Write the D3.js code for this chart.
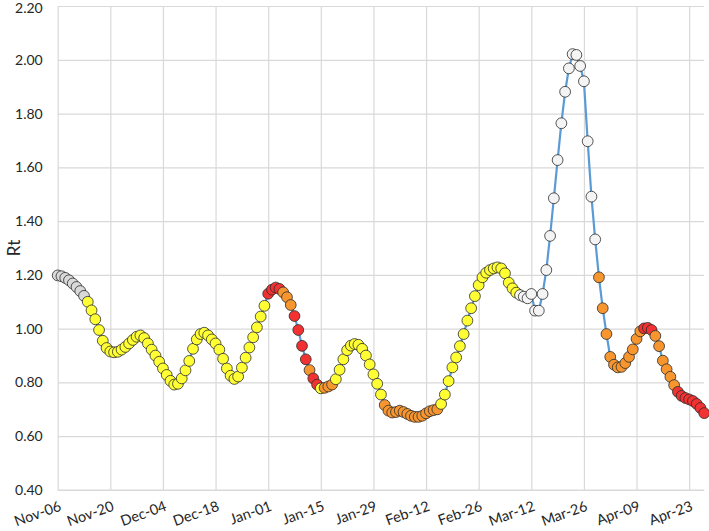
<!DOCTYPE html>
<html>
<head>
<meta charset="utf-8">
<script src="https://cdn.jsdelivr.net/npm/d3@7"></script>
<style>
body { margin: 0; background: #fff; }
text { font-family: Lato, "Open Sans", sans-serif; }
</style>
</head>
<body>
<div class="chart"></div>
<script>
// daily Rt values, Nov-06 .. Apr-27
var startDay = Date.UTC(2020, 10, 6);
var endDay = Date.UTC(2021, 3, 27);

var rtValues = [
    1.198, 1.195, 1.189, 1.180, 1.168, 1.155, 1.140, 1.122, 1.100, 1.068,
    1.035, 0.995, 0.955, 0.928, 0.915, 0.912, 0.914, 0.922, 0.932, 0.945,
    0.958, 0.970, 0.975, 0.965, 0.945, 0.922, 0.900, 0.877, 0.852, 0.828,
    0.806, 0.792, 0.795, 0.815, 0.845, 0.880, 0.925, 0.960, 0.980, 0.985,
    0.975, 0.960, 0.945, 0.922, 0.888, 0.852, 0.825, 0.813, 0.822, 0.855,
    0.892, 0.930, 0.968, 1.005, 1.045, 1.085, 1.130, 1.145, 1.153, 1.148,
    1.135, 1.117, 1.088, 1.047, 0.995, 0.936, 0.886, 0.846, 0.815, 0.792,
    0.778, 0.780, 0.785, 0.792, 0.812, 0.847, 0.886, 0.920, 0.937, 0.943,
    0.940, 0.925, 0.900, 0.867, 0.830, 0.795, 0.755, 0.716, 0.695, 0.688,
    0.690, 0.695, 0.690, 0.683, 0.676, 0.672, 0.672, 0.676, 0.685, 0.693,
    0.697, 0.700, 0.720, 0.755, 0.805, 0.856, 0.893, 0.935, 0.980, 1.030,
    1.076, 1.121, 1.162, 1.191, 1.208, 1.218, 1.224, 1.228, 1.224, 1.206,
    1.171, 1.150, 1.134, 1.125, 1.119, 1.113, 1.129, 1.067, 1.067, 1.129,
    1.218, 1.345, 1.485, 1.627, 1.764, 1.881, 1.968, 2.021, 2.018, 1.977,
    1.920, 1.697, 1.491, 1.332, 1.191, 1.076, 0.980, 0.895, 0.866, 0.856,
    0.858, 0.872, 0.895, 0.923, 0.962, 0.990, 1.001, 1.003, 0.995, 0.973,
    0.935, 0.881, 0.849, 0.821, 0.790, 0.765, 0.750, 0.742, 0.737, 0.731,
    0.720, 0.705, 0.686
];

// marker colour runs: [level, number of days]
var levelRuns = [
    ["grey", 8], ["yellow", 48], ["red", 4], ["orange", 3], ["red", 4],
    ["orange", 1], ["red", 2], ["yellow", 1], ["orange", 3], ["yellow", 13],
    ["orange", 15], ["yellow", 21], ["white", 21], ["orange", 12], ["red", 3],
    ["orange", 6], ["red", 8]
];

var levelColors = {
    grey: "#d9d9d9",
    yellow: "#ffff33",
    orange: "#f7962f",
    red: "#f23232",
    white: "#f4f4f4"
};

var yTicks = [0.4, 0.6, 0.8, 1.0, 1.2, 1.4, 1.6, 1.8, 2.0, 2.2];
var xTickLabels = ["Nov-06", "Nov-20", "Dec-04", "Dec-18", "Jan-01", "Jan-15", "Jan-29",
    "Feb-12", "Feb-26", "Mar-12", "Mar-26", "Apr-09", "Apr-23"];

var svgWidth = 709;
var svgHeight = 531;
var plotLeft = 57.7, plotRight = 704.2, plotTop = 6, plotBottom = 490;

var gridColor = "#d9d9d9";
var textColor = "#262626";
var lineColor = "#5b9bd5";

var levels = [];
levelRuns.forEach(r => { for (var k = 0; k < r[1]; k++) levels.push(r[0]); });

var points = rtValues.map((v, i) => ({
    date: d3.utcDay.offset(new Date(startDay), i),
    value: v,
    level: levels[i]
}));

var xTickDates = xTickLabels.map((d, i) => d3.utcDay.offset(new Date(startDay), i * 14));

var xScale = d3.scaleUtc()
    .domain([new Date(startDay), new Date(endDay)])
    .range([plotLeft, plotRight]);

var yScale = d3.scaleLinear()
    .domain([0.4, 2.2])
    .range([plotBottom, plotTop]);

var $svg = d3.select(".chart")
    .append("svg")
    .attr("width", svgWidth)
    .attr("height", svgHeight);

// horizontal gridlines + y labels
var yAxis = d3.axisLeft(yScale)
    .tickValues(yTicks)
    .tickFormat(d3.format(".2f"))
    .tickSize(-(plotRight - plotLeft))
    .tickPadding(15);

var $yAxis = $svg.append("g")
    .attr("transform", `translate(${plotLeft},0)`)
    .call(yAxis);
$yAxis.select(".domain").remove();
$yAxis.selectAll("line").attr("stroke", gridColor).attr("stroke-width", 1.2);
$yAxis.selectAll("text")
    .attr("fill", textColor)
    .style("font-size", "14px");
// keep the top label inside the page
$yAxis.selectAll("text").filter(d => d === 2.2).attr("dy", "0.45em");

// vertical gridlines + rotated date labels
var xAxis = d3.axisBottom(xScale)
    .tickValues(xTickDates)
    .tickFormat((d, i) => xTickLabels[i])
    .tickSize(-(plotBottom - plotTop));

var $xAxis = $svg.append("g")
    .attr("transform", `translate(0,${plotBottom})`)
    .call(xAxis);
$xAxis.select(".domain").remove();
$xAxis.selectAll("line").attr("stroke", gridColor).attr("stroke-width", 1.2);
$xAxis.selectAll("text")
    .attr("fill", textColor)
    .style("font-size", "14.5px")
    .attr("text-anchor", "end")
    .attr("x", 0)
    .attr("y", 0)
    .attr("dy", null)
    .attr("transform", "translate(4,20) rotate(-20)");

// bottom axis line
$svg.append("line")
    .attr("x1", plotLeft).attr("x2", plotRight)
    .attr("y1", plotBottom).attr("y2", plotBottom)
    .attr("stroke", gridColor)
    .attr("stroke-width", 1.2);

// y title
$svg.append("text")
    .attr("transform", `translate(20,${(plotTop + plotBottom) / 2}) rotate(-90)`)
    .attr("text-anchor", "middle")
    .attr("fill", textColor)
    .style("font-size", "17px")
    .text("Rt");

// connecting line
var line = d3.line()
    .x(d => xScale(d.date))
    .y(d => yScale(d.value));

$svg.append("path")
    .datum(points)
    .attr("d", line)
    .attr("fill", "none")
    .attr("stroke", lineColor)
    .attr("stroke-width", 2.2);

// markers
$svg.append("g")
    .selectAll("circle")
    .data(points)
    .enter()
    .append("circle")
    .attr("cx", d => xScale(d.date))
    .attr("cy", d => yScale(d.value))
    .attr("r", 5.4)
    .attr("fill", d => levelColors[d.level])
    .attr("stroke", "#2b2b2b")
    .attr("stroke-width", 0.8);
</script>
</body>
</html>
